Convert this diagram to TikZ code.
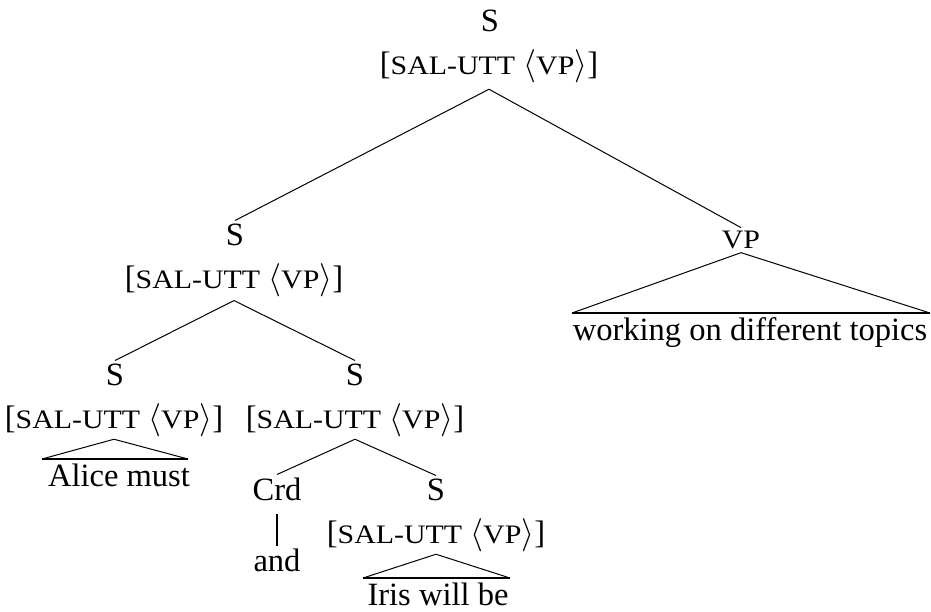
\documentclass[tikz,border=0pt]{standalone}
\usepackage{fontspec}
\setmainfont{Liberation Serif}
\newfontfamily\scwide[FakeStretch=1.12]{Liberation Serif}
% faked small capitals for feature names and category labels
\newcommand\smc[1]{{\fontsize{20pt}{20pt}\scwide #1}}
\newcommand\feat{[\smc{SAL-UTT}\ $\langle$\smc{VP}$\rangle$]}
\tikzset{
  txt/.style={anchor=base, inner sep=0pt, font=\fontsize{24.4pt}{29pt}\selectfont},
  branch/.style={line width=0.75pt},
  roof/.style={line width=0.75pt},
  bar/.style={line width=1.5pt},
}
\begin{document}
\begin{tikzpicture}[x=0.75pt, y=-0.75pt]
  \useasboundingbox (0,0) rectangle (931,611);
  % root
  \node[txt] (r) at (490,31) {S};
  \node[txt] (rf) at (489,74) {\feat};
  % left conjunct group
  \node[txt] (a) at (235,245) {S};
  \node[txt] (af) at (234,288) {\feat};
  % VP
  \node[txt] (vp) at (741,248) {\smc{VP}};
  \coordinate (vpl) at (572,313);
  \coordinate (vpr) at (930,313);
  \node[txt] (vpw) at (750,340) {working on different topics};
  % Alice must
  \node[txt] (b) at (115,385) {S};
  \node[txt] (bf) at (114,428) {\feat};
  \coordinate (bl) at (42,459);
  \coordinate (br) at (188,459);
  \node[txt] (bw) at (119,486) {Alice must};
  % coordinated S
  \node[txt] (c) at (355,385) {S};
  \node[txt] (cf) at (355,428) {\feat};
  % Crd and
  \node[txt] (d) at (277,500) {Crd};
  \node[txt] (dw) at (277,571) {and};
  % Iris will be
  \node[txt] (e) at (436,500) {S};
  \node[txt] (ef) at (436,543) {\feat};
  \coordinate (el) at (363,578);
  \coordinate (er) at (510,578);
  \node[txt] (ew) at (438,605) {Iris will be};

  % branches
  \draw[branch] ([yshift=-5pt]rf.south) -- ([yshift=2pt]a.north);
  \draw[branch] ([yshift=-5pt]rf.south) -- ([yshift=2pt]vp.north);
  \draw[branch] ([yshift=-3pt]af.south) -- ([yshift=2pt]b.north);
  \draw[branch] ([yshift=-3pt]af.south) -- ([yshift=2pt]c.north);
  \draw[branch] ([yshift=-2pt]cf.south) -- ([yshift=2pt]d.north);
  \draw[branch] ([yshift=-2pt]cf.south) -- ([yshift=2pt]e.north);
  \draw[bar] ([yshift=-10pt]d.south) -- ([yshift=2pt]dw.north);
  % roofs
  \draw[roof] ([yshift=-2pt]bf.south) -- (bl) ([yshift=-2pt]bf.south) -- (br);
  \draw[bar] (bl) -- (br);
  \draw[roof] ([yshift=-2pt]ef.south) -- (el) ([yshift=-2pt]ef.south) -- (er);
  \draw[bar] (el) -- (er);
  \draw[roof] ([yshift=-3pt]vp.south) -- (vpl) ([yshift=-3pt]vp.south) -- (vpr);
  \draw[bar] (vpl) -- (vpr);
\end{tikzpicture}
\end{document}
